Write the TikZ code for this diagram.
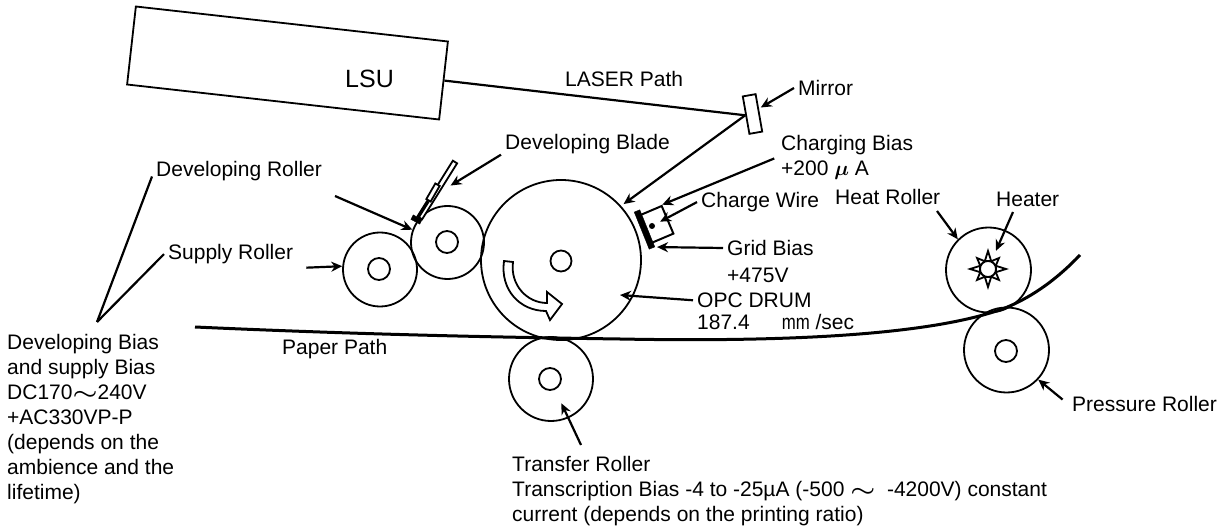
\documentclass[tikz,border=0pt]{standalone}
\usepackage{fontspec}
\setmainfont{Liberation Sans}
\usetikzlibrary{arrows.meta}
\newcommand{\wavesign}{\scalebox{1.35}[1]{$\boldsymbol{\sim}$}}
\usepackage{amsmath,amsbsy}
\begin{document}
\begin{tikzpicture}[
    x=1pt, y=-1pt,
    roller/.style={draw, circle, line width=1.8pt, inner sep=0pt, minimum size=#1},
    hub/.style={draw, circle, line width=1.8pt, inner sep=0pt, minimum size=#1, fill=white},
    txt/.style={anchor=base west, inner sep=4pt, font=\fontsize{21}{25}\selectfont},
    blocktxt/.style={anchor=north west, inner sep=4pt, align=left, font=\fontsize{21}{25}\selectfont},
    part/.style={draw, rectangle, line width=1.8pt, inner sep=0pt, fill=white},
    solidpart/.style={draw, rectangle, fill=black, inner sep=0pt},
    ptr/.style={-{Stealth[length=11pt,width=10pt]}, line width=2.2pt},
    leader/.style={line width=2.2pt},
    spike/.style={draw, line width=1.8pt, fill=white, line join=miter}
]
    \useasboundingbox (0,0) rectangle (1226,529);

    \node[roller=160pt] (drum) at (561,260) {};
    \node[hub=21pt] (drumHub) at (561,261) {};
    \node[roller=73pt] (dev) at (447.5,242.5) {};
    \node[hub=22pt] (devHub) at (447,242) {};
    \node[roller=74pt] (supply) at (380,269.5) {};
    \node[hub=22pt] (supplyHub) at (379,269) {};
    \node[roller=84pt] (transfer) at (551,379) {};
    \node[hub=22pt] (transferHub) at (550,379) {};
    \node[roller=85pt] (heat) at (988.5,270) {};
    \node[roller=85pt] (pressure) at (1006.5,350) {};
    \node[hub=22pt] (pressureHub) at (1006,351) {};

    \draw[line width=3pt] (195,327) .. controls (350,334) and (480,337) .. (620,339)
        .. controls (780,342) and (930,336) .. (1005,308) .. controls (1035,296) and (1060,276) .. (1080,255);

    \draw[line width=1.8pt, fill=white] (504,261) .. controls (500,290) and (520,311) .. (546,311)
        -- (550,320) -- (562,304) -- (547,292) -- (547,303) .. controls (527,303) and (510,285) .. (513,262) -- cycle;

    \node[part, minimum width=314pt, minimum height=78.5pt, rotate=-6.4] (lsu) at (287.5,63) {};
    \node[anchor=base west, inner sep=0pt, font=\fontsize{25}{28}\selectfont] (lsuText) at (345,87.5) {LSU};
    \node[part, minimum width=13pt, minimum height=38pt, rotate=10] (mirror) at (752.5,114) {};

    \node[part, minimum width=5pt, minimum height=66pt, rotate=-32] (blade) at (437.5,190) {};
    \node[part, minimum width=5pt, minimum height=18pt, rotate=-30] (holder) at (433,192.5) {};
    \node[solidpart, minimum width=10pt, minimum height=5pt, rotate=-28] (foot) at (416.5,219.5) {};
    \draw[line width=3.5pt] (holder.south) -- (foot);

    \node[part, minimum width=24pt, minimum height=30pt, rotate=23, line width=2pt] (charger) at (656.5,224.5) {};
    \node[solidpart, minimum width=6pt, minimum height=40pt, rotate=22] (bar) at (644.5,229.5) {};
    \node[circle, fill=black, inner sep=0pt, minimum size=6pt] (wire) at (652,226) {};

    \foreach \a/\r in {0/18,45/15.5,90/18,135/15.5,180/18,225/15.5,270/18,315/15.5}
        \draw[spike, shift={(988,269)}] (\a:\r) -- (\a+22:8.5) -- (\a-22:8.5) -- cycle;
    \node[hub=16pt] (heatHub) at (988,269) {};

    \node[txt] (laserLbl) at (561,86.5) {LASER Path};
    \node[txt] (mirrorLbl) at (794,95.5) {Mirror};
    \node[txt] (bladeLbl) at (501,149.5) {Developing Blade};
    \node[txt] (devLbl) at (152,176.5) {Developing Roller};
    \node[txt] (supplyLbl) at (164,259.5) {Supply Roller};
    \node[txt] (paperLbl) at (278,354.5) {Paper Path};
    \node[blocktxt] (biasLbl) at (3,330) {Developing Bias\\and supply Bias\\DC170\wavesign 240V\\+AC330VP-P\\(depends on the\\ambience and the\\lifetime)};
    \node[blocktxt] (chargingLbl) at (777,131) {Charging Bias\\+200 $\boldsymbol{\mu}$ A};
    \node[txt] (wireLbl) at (697,207.5) {Charge Wire};
    \node[txt] (gridLbl) at (723,255.5) {Grid Bias};
    \node[txt] (gridVal) at (723,282.5) {+475V};
    \node[txt] (opcLbl) at (693,307.5) {OPC DRUM};
    \node[txt] (speedLbl) at (693,329.5) {187.4\hspace{32pt}\scalebox{0.8}[1]{mm} /sec};
    \node[txt] (heatLbl) at (831,204.5) {Heat Roller};
    \node[txt] (heaterLbl) at (992,206.5) {Heater};
    \node[txt] (pressureLbl) at (1068,411.5) {Pressure Roller};
    \node[blocktxt] (transferLbl) at (508,452) {Transfer Roller\\Transcription Bias -4 to -25µA (-500 \wavesign\ \ -4200V) constant\\current (depends on the printing ratio)};

    \coordinate (biasTop) at (97,322);
    \coordinate (devFrom) at (335,196);
    \coordinate (opcPoint) at (620,295);
    \coordinate (heatFrom) at (937,211);
    \coordinate (heaterFrom) at (1013,212);
    \coordinate (transferFrom) at (581,445);

    \draw[leader] (lsu.east) -- (mirror.west);
    \draw[leader] (devLbl.base west) -- (biasTop);
    \draw[leader] (supplyLbl.west) -- (biasTop);
    \draw[ptr, shorten >=3pt] (mirror.west) -- (drum.42);
    \draw[ptr, shorten >=2pt] (mirrorLbl.west) -- (mirror.30);
    \draw[ptr, shorten >=12pt] (bladeLbl.187) -- (blade.east);
    \draw[ptr] (devFrom) -- (dev.160);
    \draw[ptr, shorten <=9pt] (supplyLbl.south east) -- (supply.175);
    \draw[ptr, shorten <=3pt] (chargingLbl.west) -- (charger.north east);
    \draw[ptr, shorten >=6pt] (wireLbl.west) -- (wire);
    \draw[ptr, shorten >=2pt] (gridLbl.west) -- (bar.south east);
    \draw[ptr] (opcLbl.west) -- (opcPoint);
    \draw[ptr] (heatFrom) -- (heat.135);
    \draw[ptr, shorten >=11pt] (heaterFrom) -- (heatHub);
    \draw[ptr, shorten >=15pt] (transferFrom) -- (transferHub);
    \draw[ptr, shorten <=7pt] (pressureLbl.west) -- (pressure.-43);
\end{tikzpicture}
\end{document}
